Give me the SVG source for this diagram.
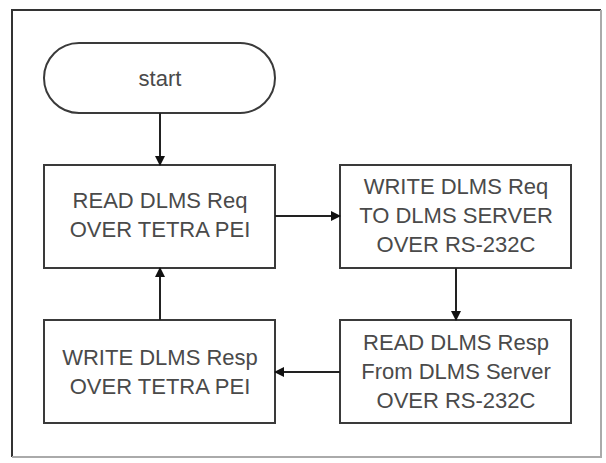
<svg xmlns="http://www.w3.org/2000/svg" width="606" height="463" viewBox="0 0 606 463">
<defs>
<style>
.box{fill:#fff;stroke:#3a3a3a;stroke-width:2}
.t{font-family:"Liberation Sans",Arial,sans-serif;font-size:22px;fill:#4a4a4a;text-anchor:middle;dominant-baseline:central}
.c{stroke:#222;stroke-width:2;fill:none;marker-end:url(#ah)}
</style>
<marker id="ah" markerWidth="10" markerHeight="10" refX="9" refY="5" orient="auto" markerUnits="userSpaceOnUse">
<path d="M0,0 L10,5 L0,10 Z" fill="#111"/>
</marker>
</defs>
<rect width="606" height="463" fill="#fff"/>
<g id="frame">
<path d="M12,457 L12,10 L601,10" fill="none" stroke="#333" stroke-width="2"/>
<path d="M601,10 L601,457 L12,457" fill="none" stroke="#aaa" stroke-width="2"/>
</g>
<g id="start">
<rect class="box" x="44" y="43" width="231" height="70" rx="35" ry="35"/>
<text class="t" x="160" y="78">start</text>
</g>
<g id="read-req">
<rect class="box" x="44" y="165" width="231" height="103"/>
<text class="t" x="160" y="200">READ DLMS Req</text>
<text class="t" x="160" y="229">OVER TETRA PEI</text>
</g>
<g id="write-req">
<rect class="box" x="340" y="165" width="231" height="103"/>
<text class="t" x="456" y="186">WRITE DLMS Req</text>
<text class="t" x="456" y="215">TO DLMS SERVER</text>
<text class="t" x="456" y="244">OVER RS-232C</text>
</g>
<g id="read-resp">
<rect class="box" x="340" y="320" width="231" height="103"/>
<text class="t" x="456" y="342">READ DLMS Resp</text>
<text class="t" x="456" y="371">From DLMS Server</text>
<text class="t" x="456" y="400">OVER RS-232C</text>
</g>
<g id="write-resp">
<rect class="box" x="44" y="320" width="231" height="103"/>
<text class="t" x="160" y="357">WRITE DLMS Resp</text>
<text class="t" x="160" y="386">OVER TETRA PEI</text>
</g>
<g id="connectors">
<line class="c" x1="160" y1="113" x2="160" y2="165"/>
<line class="c" x1="275" y1="216" x2="340" y2="216"/>
<line class="c" x1="456" y1="268" x2="456" y2="320"/>
<line class="c" x1="340" y1="372" x2="275" y2="372"/>
<line class="c" x1="160" y1="320" x2="160" y2="268"/>
</g>
</svg>
